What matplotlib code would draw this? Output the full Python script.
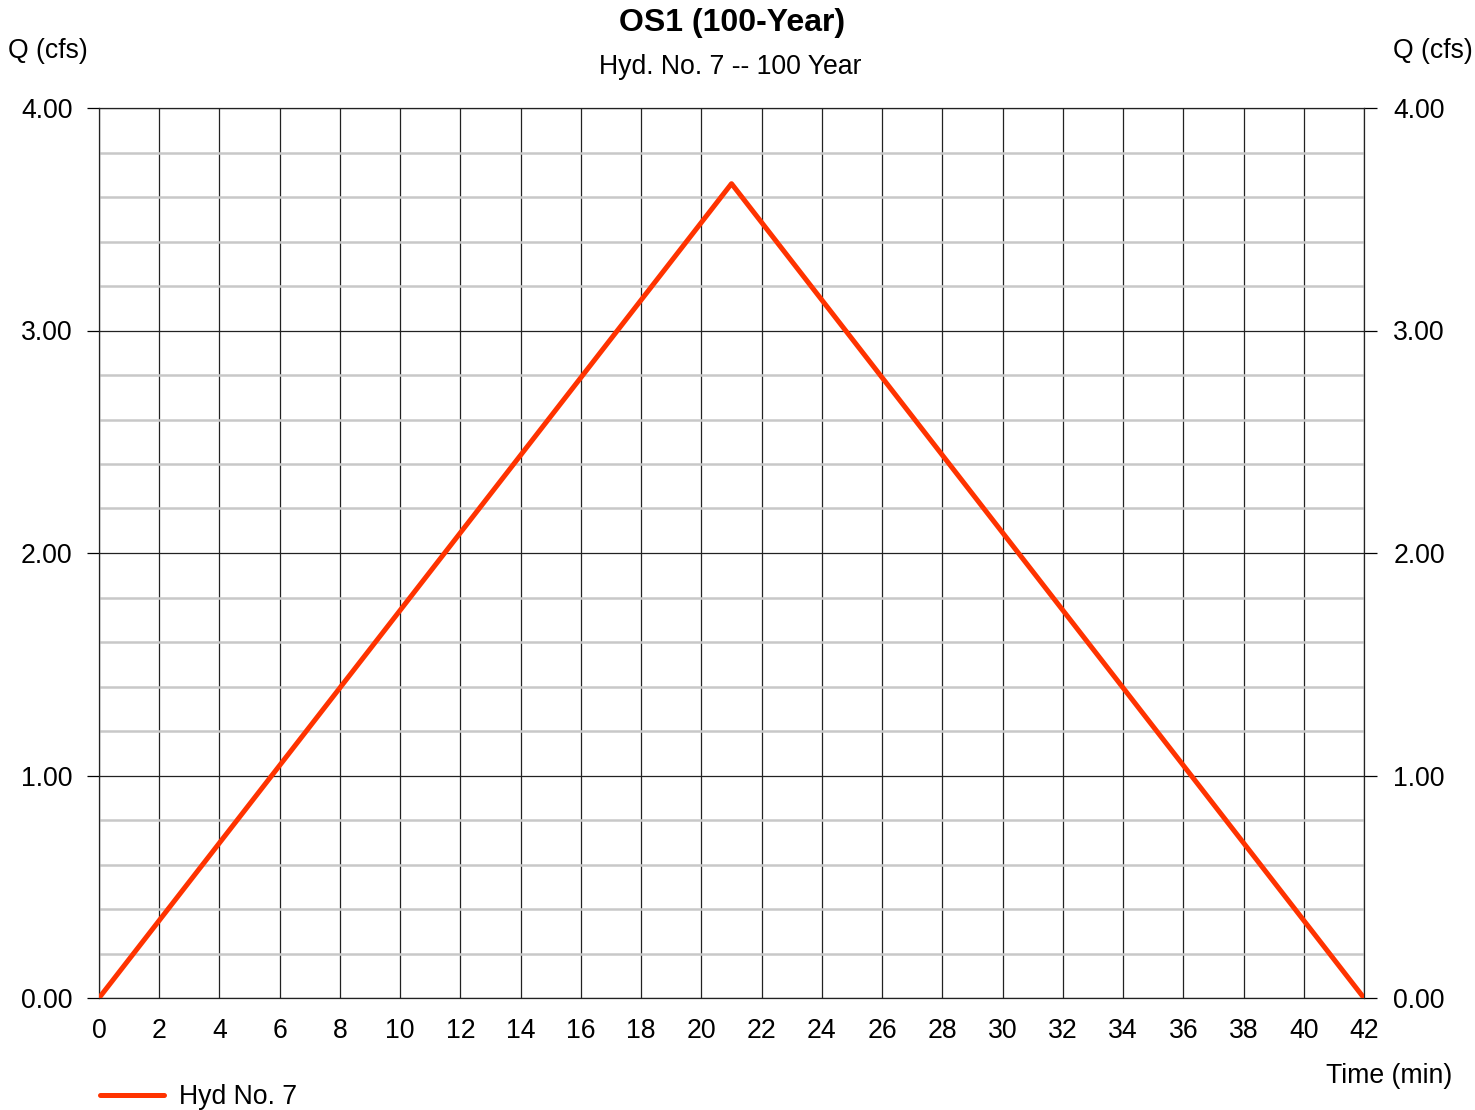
import matplotlib
matplotlib.use("Agg")
import matplotlib.pyplot as plt
import matplotlib.transforms as mtransforms
from matplotlib.ticker import MultipleLocator

plt.rcParams['font.family'] = ['Liberation Sans', 'DejaVu Sans']

# Data
time_min = [0, 21, 42]
flow_cfs = [0.0, 3.66, 0.0]
x_ticks = list(range(0, 43, 2))
y_ticks = [0.0, 1.0, 2.0, 3.0, 4.0]
series_label = "Hyd No. 7"
title = "OS1 (100-Year)"
subtitle = "Hyd. No. 7 -- 100 Year"

fig = plt.figure(figsize=(14.75, 11.10), dpi=100)
ax = fig.add_axes([99/1475, 1 - 998/1110, (1364-99)/1475, (998-108)/1110])

ax.set_xlim(0, 42)
ax.set_ylim(0, 4)
ax.set_xticks(x_ticks)
ax.set_yticks(y_ticks)
ax.set_yticklabels([f"{v:.2f}" for v in y_ticks])
ax.yaxis.set_minor_locator(MultipleLocator(0.2))

ax.grid(which='minor', axis='y', color='#c8c8c8', linewidth=1.8, zorder=0)
ax.grid(which='major', axis='both', color='#222222', linewidth=0.9, zorder=1)

for s in ax.spines.values():
    s.set_color('#222222')
    s.set_linewidth(0.9)

ax.tick_params(axis='y', which='major', direction='out', length=9, width=0.9,
               labelsize=19.2, left=True, right=True, labelleft=True, labelright=True, pad=10)
ax.tick_params(axis='y', which='minor', length=0)
ax.tick_params(axis='x', which='major', length=0, labelsize=19.2, pad=14.5)

# nudge right-hand labels slightly outward
offset = mtransforms.ScaledTranslation(3/100, 0, fig.dpi_scale_trans)
for t in ax.yaxis.get_major_ticks():
    t.label2.set_transform(t.label2.get_transform() + offset)

line, = ax.plot(time_min, flow_cfs, color='#ff3300', linewidth=3.6, zorder=3,
                solid_capstyle='round', label=series_label)

fig.text(732/1475, 1 - 23/1110, title, ha='center', va='center', fontsize=23, fontweight='bold')
fig.text(730/1475, 1 - 67/1110, subtitle, ha='center', va='center', fontsize=19.2)
fig.text(8/1475, 1 - 51/1110, "Q (cfs)", ha='left', va='center', fontsize=19.2)
fig.text(1473/1475, 1 - 51/1110, "Q (cfs)", ha='right', va='center', fontsize=19.2)
fig.text(1452/1475, 1 - 1076/1110, "Time (min)", ha='right', va='center', fontsize=19.2)

leg = fig.legend(handles=[line], loc='center left', bbox_to_anchor=(100/1475, 1 - 1097/1110),
                 frameon=False, fontsize=19.2, handlelength=2.4, handletextpad=0.57,
                 borderaxespad=0, borderpad=0)

fig.savefig("out.png", dpi=100)
